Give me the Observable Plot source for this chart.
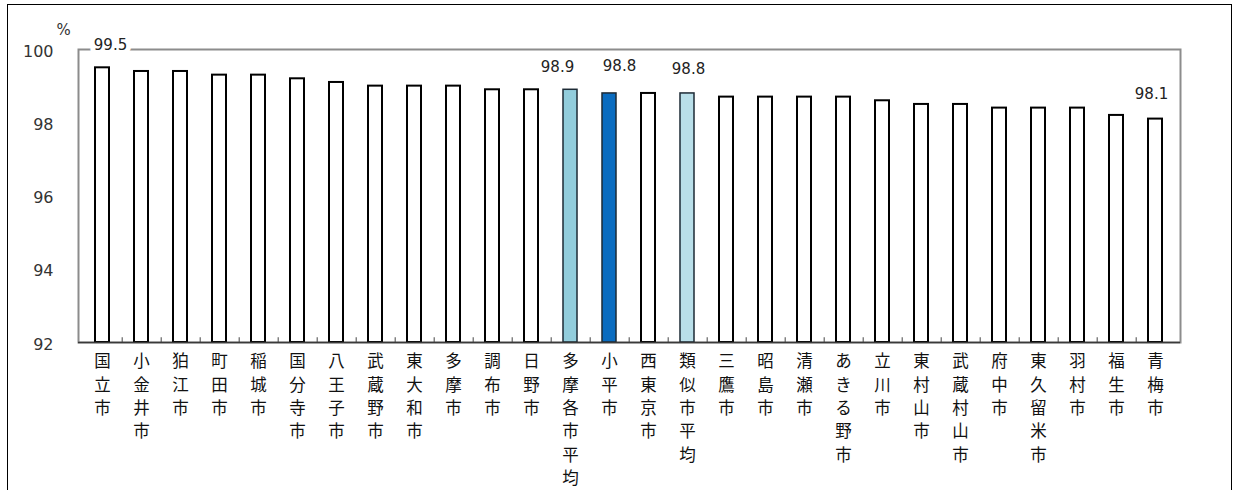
<!DOCTYPE html>
<html lang="ja">
<head>
<meta charset="utf-8">
<script src="https://cdn.jsdelivr.net/npm/d3@7"></script>
<script src="https://cdn.jsdelivr.net/npm/@observablehq/plot@0.6"></script>
<style>
  html, body { margin: 0; padding: 0; background: #fff; }
  #wrap { position: relative; width: 1235px; height: 490px; overflow: hidden; }
  #border { position: absolute; left: 7px; top: 4px; width: 1225px; height: 560px;
            border: 1.5px solid #000; box-sizing: border-box; }
  #chart { position: absolute; left: 0; top: 0; }
</style>
</head>
<body>
<div id="wrap"><div id="border"></div><div id="chart"></div></div>
<script>
// Cities (plus two averages), left to right
const names = [
  "国立市", "小金井市", "狛江市", "町田市", "稲城市", "国分寺市", "八王子市",
  "武蔵野市", "東大和市", "多摩市", "調布市", "日野市", "多摩各市平均", "小平市",
  "西東京市", "類似市平均", "三鷹市", "昭島市", "清瀬市", "あきる野市", "立川市",
  "東村山市", "武蔵村山市", "府中市", "東久留米市", "羽村市", "福生市", "青梅市"
];
// Rate (%) for each entry above
const values = [
  99.5, 99.4, 99.4, 99.3, 99.3, 99.2, 99.1,
  99.0, 99.0, 99.0, 98.9, 98.9, 98.9, 98.8,
  98.8, 98.8, 98.7, 98.7, 98.7, 98.7, 98.6,
  98.5, 98.5, 98.4, 98.4, 98.4, 98.2, 98.1
];
// Bars that carry a value label
const labeledNames = ["国立市", "多摩各市平均", "小平市", "類似市平均", "青梅市"];
// Y axis tick values
const yTicks = [92, 94, 96, 98, 100];

const data = names.map((name, i) => ({name, value: values[i]}));

// Styling
const highlight = {"多摩各市平均": "#92cddc", "小平市": "#0a6cc0", "類似市平均": "#b9dfe9"};
const labelNudge = {"国立市": [8, -23], "多摩各市平均": [-13, -23], "小平市": [10, -27], "類似市平均": [1, -24], "青梅市": [-4, -25]};

const W = 1235, H = 490;
const margin = {top: 49, right: 55, bottom: 148, left: 78};
const step = (W - margin.left - margin.right) / names.length;
const numFont = "DejaVu Sans, Liberation Sans, sans-serif";

// one text mark per labelled bar, each with its own offset
const valueLabels = labeledNames.map(n => Plot.text(data.filter(d => d.name === n), {
  x: "name", y: "value", text: d => d.value.toFixed(1),
  dx: labelNudge[n][0], dy: labelNudge[n][1],
  fontSize: 15, fill: "#222", fontFamily: numFont, letterSpacing: 0.5,
  stroke: "#fff", strokeWidth: 10, paintOrder: "stroke"
}));

const chart = Plot.plot({
  width: W,
  height: H,
  marginTop: margin.top,
  marginRight: margin.right,
  marginBottom: margin.bottom,
  marginLeft: margin.left,
  style: {background: "transparent", overflow: "visible"},
  x: {domain: names, paddingInner: 0.63, paddingOuter: 0.315, axis: null},
  y: {domain: [92, 100], axis: null},
  marks: [
    // plot area border
    Plot.frame({stroke: "#8c8c8c", strokeWidth: 2}),
    // bars
    Plot.barY(data, {
      x: "name", y1: 92, y2: "value",
      fill: d => highlight[d.name] ?? "#ffffff",
      stroke: d => highlight[d.name] ? "#1d2a35" : "#000",
      strokeWidth: d => highlight[d.name] ? 1.5 : 2
    }),
    // baseline
    Plot.ruleY([92], {stroke: "#3a3a3a", strokeWidth: 1.5}),
    // small category separators on the baseline
    Plot.ruleX(names.slice(0, -1), {x: d => d, dx: step / 2, y1: 92, y2: 92.13, stroke: "#444", strokeWidth: 1}),
    // y tick labels
    Plot.text(yTicks, {
      y: d => d, text: d => String(d), frameAnchor: "left", textAnchor: "end",
      dx: -25, dy: 2, fontSize: 16, fill: "#333", fontFamily: numFont, letterSpacing: 1
    }),
    // unit
    Plot.text(["%"], {
      frameAnchor: "top-left", textAnchor: "middle", lineAnchor: "middle",
      dx: -15, dy: -19, fontSize: 15, fill: "#333", fontFamily: numFont
    }),
    // value labels
    ...valueLabels,
    // category names, written vertically
    Plot.text(names, {
      x: d => d, y: 92, text: d => Array.from(d).join("\n"),
      lineAnchor: "top", dy: 8, lineHeight: 1.42, fontSize: 16.5,
      fill: "#111", fontFamily: "Noto Sans CJK JP, sans-serif"
    })
  ]
});

document.getElementById("chart").appendChild(chart);
</script>
</body>
</html>
